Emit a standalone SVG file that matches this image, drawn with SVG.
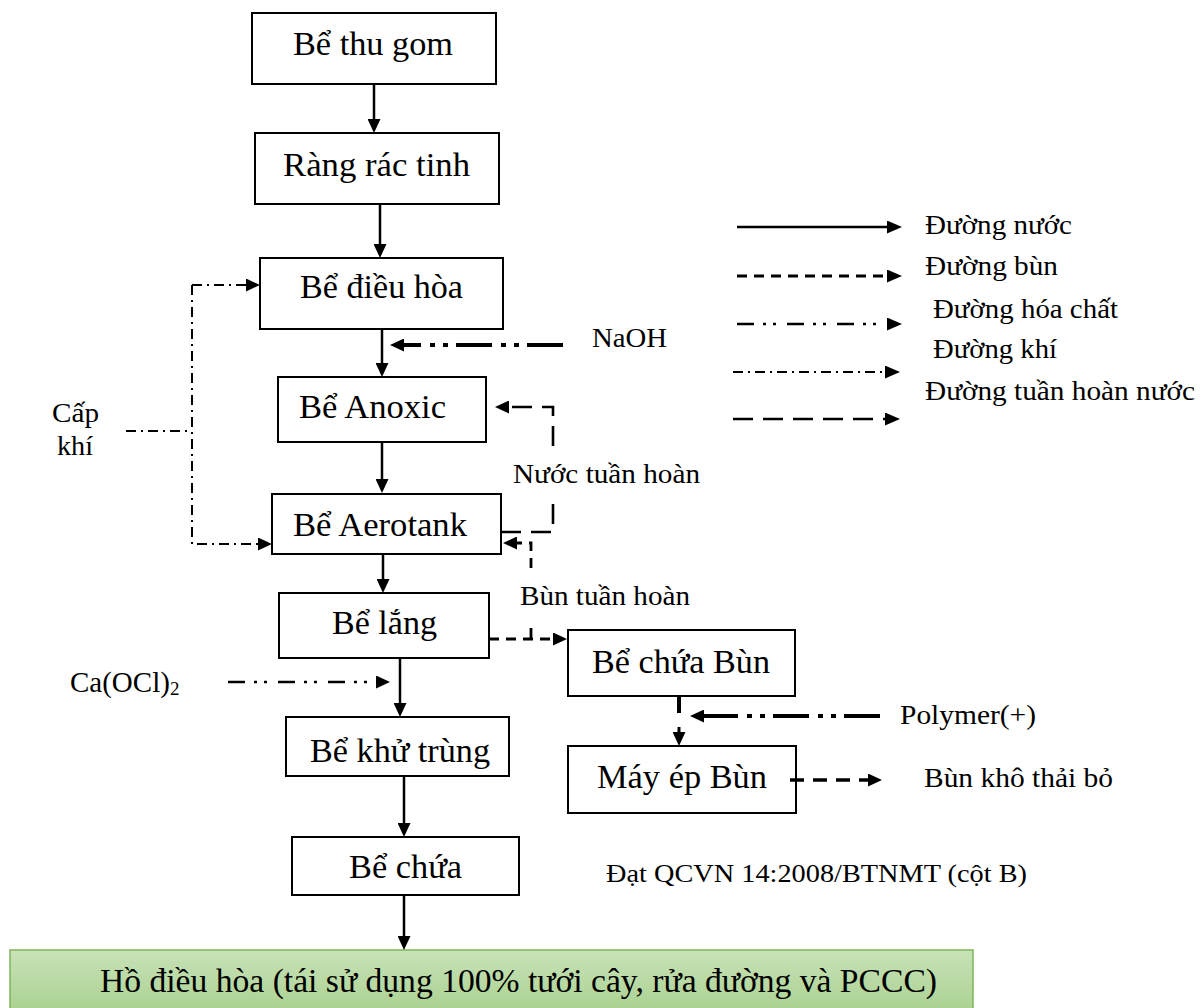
<svg xmlns="http://www.w3.org/2000/svg" width="1203" height="1008" viewBox="0 0 1203 1008">
  <defs>
    <style>
      text { font-family: "Liberation Serif", "Times New Roman", serif; fill: #000; }
      .box { fill: #fff; stroke: #000; stroke-width: 2; }
      .bt { font-size: 34px; }
      .lb { font-size: 28px; }
      .lg { font-size: 28px; }
      .ln { fill: none; stroke: #000; stroke-linecap: butt; }
      .water { stroke-width: 2.5; }
      .sludge { stroke-width: 2.8; stroke-dasharray: 10 7; }
      .sludgeb { stroke-width: 3.5; stroke-dasharray: 14 9; }
      .recirc { stroke-width: 2.6; stroke-dasharray: 20 10; }
      .air { stroke-width: 2; stroke-dasharray: 10 5 2 5; }
      .chem { stroke-width: 2.5; stroke-dasharray: 17 9 3 7 3 11; }
      .chemb { stroke-width: 4; stroke-dasharray: 36 8 5 8 5 9; }
    </style>
    <linearGradient id="greenFill" x1="0" y1="0" x2="0" y2="1">
      <stop offset="0" stop-color="#c9e2b8"/>
      <stop offset="1" stop-color="#a6cf8b"/>
    </linearGradient>
    <!-- arrowhead: tip sits 6px beyond the line end -->
    <marker id="ah" viewBox="0 0 14 13" refX="8" refY="6.5" markerWidth="14" markerHeight="13" markerUnits="userSpaceOnUse" orient="auto">
      <path d="M0,0 L14,6.5 L0,13 z" fill="#000"/>
    </marker>
    <marker id="ahs" viewBox="0 0 15 13" refX="9" refY="6.5" markerWidth="15" markerHeight="13" markerUnits="userSpaceOnUse" orient="auto">
      <path d="M0,0 L15,6.5 L0,13 z" fill="#000"/>
    </marker>
  </defs>

  <rect width="1203" height="1008" fill="#fff"/>

  <!-- process units -->
  <g id="be-thu-gom">
    <rect class="box" x="252" y="13" width="244" height="71"/>
    <text class="bt" x="293" y="55" textLength="160" lengthAdjust="spacingAndGlyphs">Bể thu gom</text>
  </g>
  <g id="rang-rac-tinh">
    <rect class="box" x="255" y="133" width="244" height="71"/>
    <text class="bt" x="283" y="176" textLength="187" lengthAdjust="spacingAndGlyphs">Ràng rác tinh</text>
  </g>
  <g id="be-dieu-hoa">
    <rect class="box" x="260" y="258" width="243" height="71"/>
    <text class="bt" x="300" y="298" textLength="163" lengthAdjust="spacingAndGlyphs">Bể điều hòa</text>
  </g>
  <g id="be-anoxic">
    <rect class="box" x="278" y="377" width="208" height="65"/>
    <text class="bt" x="299" y="418" textLength="147" lengthAdjust="spacingAndGlyphs">Bể Anoxic</text>
  </g>
  <g id="be-aerotank">
    <rect class="box" x="272" y="494" width="229" height="60"/>
    <text class="bt" x="293" y="536" textLength="174" lengthAdjust="spacingAndGlyphs">Bể Aerotank</text>
  </g>
  <g id="be-lang">
    <rect class="box" x="279" y="593" width="210" height="65"/>
    <text class="bt" x="332" y="634" textLength="105" lengthAdjust="spacingAndGlyphs">Bể lắng</text>
  </g>
  <g id="be-khu-trung">
    <rect class="box" x="286" y="717" width="223" height="59"/>
    <text class="bt" x="310" y="762" textLength="180" lengthAdjust="spacingAndGlyphs">Bể khử trùng</text>
  </g>
  <g id="be-chua">
    <rect class="box" x="292" y="837" width="227" height="58"/>
    <text class="bt" x="349" y="878" textLength="113" lengthAdjust="spacingAndGlyphs">Bể chứa</text>
  </g>
  <g id="be-chua-bun">
    <rect class="box" x="568" y="630" width="227" height="66"/>
    <text class="bt" x="592" y="673" textLength="178" lengthAdjust="spacingAndGlyphs">Bể chứa Bùn</text>
  </g>
  <g id="may-ep-bun">
    <rect class="box" x="568" y="746" width="228" height="67"/>
    <text class="bt" x="597" y="788" textLength="170" lengthAdjust="spacingAndGlyphs">Máy ép Bùn</text>
  </g>
  <g id="ho-dieu-hoa">
    <rect x="10" y="950" width="963" height="70" fill="url(#greenFill)" stroke="#7fb55a" stroke-width="1.5"/>
    <text x="100" y="992" font-size="33" textLength="837" lengthAdjust="spacingAndGlyphs">Hồ điều hòa (tái sử dụng 100% tưới cây, rửa đường và PCCC)</text>
  </g>

  <!-- side labels -->
  <g id="labels">
    <text class="lb" x="592" y="347" textLength="75" lengthAdjust="spacingAndGlyphs">NaOH</text>
    <text class="lb" x="513" y="483" textLength="187" lengthAdjust="spacingAndGlyphs">Nước tuần hoàn</text>
    <text class="lb" x="520" y="605" textLength="170" lengthAdjust="spacingAndGlyphs">Bùn tuần hoàn</text>
    <text class="lb" x="52" y="422" textLength="47" lengthAdjust="spacingAndGlyphs">Cấp</text>
    <text class="lb" x="57" y="455" textLength="36" lengthAdjust="spacingAndGlyphs">khí</text>
    <text x="70" y="692" font-size="29">Ca(OCl)<tspan font-size="19" dy="3">2</tspan></text>
    <text class="lb" x="900" y="724" textLength="136" lengthAdjust="spacingAndGlyphs">Polymer(+)</text>
    <text class="lb" x="924" y="787" textLength="189" lengthAdjust="spacingAndGlyphs">Bùn khô thải bỏ</text>
    <text x="606" y="882" font-size="26" textLength="421" lengthAdjust="spacingAndGlyphs">Đạt QCVN 14:2008/BTNMT (cột B)</text>
  </g>

  <!-- connectors -->
  <g id="connectors">
    <!-- main water line -->
    <path class="ln water" d="M374,84 V127" marker-end="url(#ah)"/>
    <path class="ln water" d="M380,204 V252" marker-end="url(#ah)"/>
    <path class="ln water" d="M382,329 V371" marker-end="url(#ah)"/>
    <path class="ln water" d="M382,442 V487" marker-end="url(#ah)"/>
    <path class="ln water" d="M383,554 V587" marker-end="url(#ah)"/>
    <path class="ln water" d="M400,658 V711" marker-end="url(#ah)"/>
    <path class="ln water" d="M404,776 V831" marker-end="url(#ah)"/>
    <path class="ln water" d="M404,895 V944" marker-end="url(#ah)"/>

    <!-- chemical dosing -->
    <path class="ln chemb" d="M563,345 H396" marker-end="url(#ah)"/>
    <path class="ln chem" d="M228,682 H384" marker-end="url(#ah)"/>
    <path class="ln chemb" d="M880,716 H696" marker-end="url(#ah)"/>

    <!-- air supply -->
    <path class="ln air" d="M126,431 H192"/>
    <path class="ln air" d="M192,285 V544 H266" marker-end="url(#ah)"/>
    <path class="ln air" d="M192,285 H254" marker-end="url(#ah)"/>

    <!-- internal water recirculation -->
    <path class="ln recirc" d="M501,532 H553 V500"/>
    <path class="ln recirc" d="M553,446 V407 H501" marker-end="url(#ah)"/>

    <!-- return sludge -->
    <path class="ln sludge" d="M531,568 V543 H509" marker-end="url(#ah)"/>
    <path class="ln sludge" d="M531,628 V639"/>
    <path class="ln sludge" d="M489,639 H561" marker-end="url(#ah)"/>

    <!-- sludge handling -->
    <path class="ln" stroke-width="4" d="M679,696 V713"/>
    <path class="ln" stroke-width="3" d="M679,727 V740" marker-end="url(#ah)"/>
    <path class="ln sludgeb" d="M790,780 H876" marker-end="url(#ah)"/>
  </g>

  <!-- legend -->
  <g id="legend">
    <path class="ln water" d="M737,227 H896" marker-end="url(#ahs)"/>
    <path class="ln sludge" d="M737,276 H896" marker-end="url(#ahs)"/>
    <path class="ln chem" d="M737,324 H896" marker-end="url(#ahs)"/>
    <path class="ln air" d="M733,372 H894" marker-end="url(#ahs)"/>
    <path class="ln recirc" d="M733,419 H894" marker-end="url(#ahs)"/>
    <text class="lg" x="925" y="234" textLength="147" lengthAdjust="spacingAndGlyphs">Đường nước</text>
    <text class="lg" x="925" y="275" textLength="133" lengthAdjust="spacingAndGlyphs">Đường bùn</text>
    <text class="lg" x="933" y="318" textLength="185" lengthAdjust="spacingAndGlyphs">Đường hóa chất</text>
    <text class="lg" x="933" y="358" textLength="124" lengthAdjust="spacingAndGlyphs">Đường khí</text>
    <text class="lg" x="925" y="400" textLength="270" lengthAdjust="spacingAndGlyphs">Đường tuần hoàn nước</text>
  </g>
</svg>
